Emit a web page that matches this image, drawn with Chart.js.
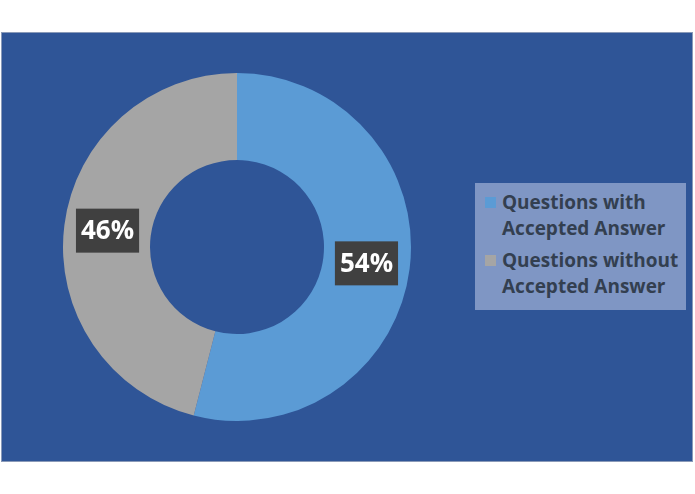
<!DOCTYPE html>
<html>
<head>
<meta charset="utf-8">
<script src="https://cdn.jsdelivr.net/npm/chart.js@4"></script>
<style>
  body { margin: 0; background: #fff; width: 695px; height: 494px; position: relative; overflow: hidden; font-family: "Open Sans", sans-serif; }
  #panel { position: absolute; left: 1px; top: 32px; width: 692px; height: 430px; background: #2F5597; border: 1px solid #8a9ab8; box-sizing: border-box; }
  #wrap { position: absolute; left: 63px; top: 73px; width: 348px; height: 348px; }
  #legend { position: absolute; left: 475px; top: 183px; width: 211px; height: 127px; background: #7F96C4; box-sizing: border-box; padding: 6px 0 0 10px; }
  .item { display: flex; align-items: flex-start; font-weight: bold; font-size: 19px; line-height: 26px; color: #333F50; margin-bottom: 6px; }
  .sw { width: 11px; height: 11px; margin: 8px 6px 0 0; flex: none; }
</style>
</head>
<body>
<div id="panel"></div>
<div id="wrap"><canvas id="donut"></canvas></div>
<div id="legend"></div>
<script>
// Data
const categories = ['Questions with\nAccepted Answer', 'Questions without\nAccepted Answer'];
const shares = [54, 46];
const sliceColors = ['#5B9BD5', '#A5A5A5'];

// Legend
const legend = document.getElementById('legend');
categories.forEach((c, i) => {
    const row = document.createElement('div');
    row.className = 'item';
    row.innerHTML = '<span class="sw" style="background:' + sliceColors[i] + '"></span><span>' + c.replace('\n', '<br>') + '</span>';
    legend.appendChild(row);
});

// Percent labels in dark boxes
const boxLabels = {
    id: 'boxLabels',
    afterDatasetsDraw(chart) {
        const ctx = chart.ctx;
        const meta = chart.getDatasetMeta(0);
        ctx.save();
        ctx.font = 'bold 26px "Open Sans", sans-serif';
        ctx.textAlign = 'center';
        ctx.textBaseline = 'middle';
        meta.data.forEach((arc, i) => {
            const p = arc.tooltipPosition();
            const txt = shares[i] + '%';
            const w = ctx.measureText(txt).width + 10;
            ctx.fillStyle = '#404040';
            ctx.fillRect(p.x - w / 2, p.y - 22, w, 44);
            ctx.fillStyle = '#ffffff';
            ctx.fillText(txt, p.x, p.y + 1);
        });
        ctx.restore();
    }
};

new Chart(document.getElementById('donut'), {
    type: 'doughnut',
    data: {
        labels: categories,
        datasets: [{
            data: shares,
            backgroundColor: sliceColors,
            borderWidth: 0
        }]
    },
    options: {
        responsive: true,
        maintainAspectRatio: false,
        animation: false,
        cutout: '50%',
        layout: { padding: 0 },
        plugins: { legend: { display: false }, tooltip: { enabled: false } }
    },
    plugins: [boxLabels]
});
</script>
</body>
</html>
